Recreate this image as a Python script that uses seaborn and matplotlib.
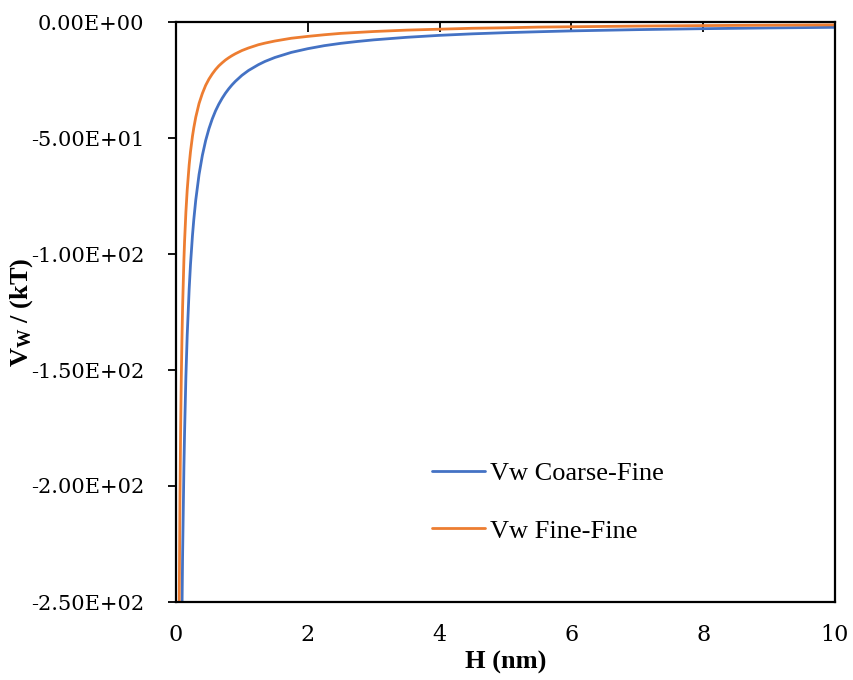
import matplotlib
matplotlib.use("Agg")
import matplotlib.pyplot as plt
import seaborn as sns
import pandas as pd
from matplotlib.ticker import FuncFormatter

# Data
h_nm = [0.04, 0.05, 0.06, 0.07, 0.08, 0.09, 0.10, 0.12, 0.13, 0.15, 0.17, 0.20,
        0.22, 0.25, 0.27, 0.30, 0.35, 0.40, 0.45, 0.50, 0.55, 0.60, 0.65, 0.70,
        0.75, 0.80, 0.85, 0.90, 1.00, 1.10, 1.25, 1.35, 1.50, 1.75, 2.00, 2.25,
        2.50, 2.75, 3.00, 3.50, 4.00, 4.50, 5.00, 5.50, 6.00, 7.00, 8.00, 9.00, 10.00]
vw_coarse_fine = [-575, -460, -383, -329, -288, -256, -230, -192, -177, -153, -135, -115,
                  -104.5, -92, -85.2, -76.7, -65.7, -57.5, -51.1, -46.0, -41.8, -38.3, -35.4, -32.9,
                  -30.7, -28.8, -27.1, -25.6, -23.0, -20.9, -18.4, -17.0, -15.3, -13.1, -11.5, -10.2,
                  -9.2, -8.4, -7.7, -6.6, -5.75, -5.1, -4.6, -4.2, -3.83, -3.29, -2.88, -2.56, -2.3]
vw_fine_fine = [-307, -246, -205, -176, -154, -137, -123, -102.5, -94.6, -82, -72.4, -61.5,
                -55.9, -49.2, -45.6, -41.0, -35.1, -30.8, -27.3, -24.6, -22.4, -20.5, -18.9, -17.6,
                -16.4, -15.4, -14.5, -13.7, -12.3, -11.2, -9.8, -9.1, -8.2, -7.0, -6.2, -5.5,
                -4.9, -4.5, -4.1, -3.5, -3.1, -2.7, -2.5, -2.2, -2.05, -1.76, -1.54, -1.37, -1.23]
series_names = ["Vw Coarse-Fine", "Vw Fine-Fine"]
x_ticks = [0, 2, 4, 6, 8, 10]
y_ticks = [-250, -200, -150, -100, -50, 0]

sns.set_theme(style="white")
plt.rcParams['font.family'] = ['DejaVu Serif']
plt.rcParams['text.color'] = 'black'
plt.rcParams['mathtext.fontset'] = 'custom'
plt.rcParams['mathtext.bf'] = 'Liberation Serif:bold'
plt.rcParams['mathtext.rm'] = 'Liberation Serif:bold'

df = pd.DataFrame({
    "H": h_nm * 2,
    "Vw": vw_coarse_fine + vw_fine_fine,
    "series": [series_names[0]] * len(h_nm) + [series_names[1]] * len(h_nm),
})

fig = plt.figure(figsize=(8.54, 6.8), dpi=100)
ax = fig.add_axes([176/854, 1-602/680, (835-176)/854, (602-22)/680])

palette = {series_names[0]: "#4472C4", series_names[1]: "#ED7D31"}
sns.lineplot(data=df, x="H", y="Vw", hue="series", palette=palette, ax=ax,
             linewidth=2.0, sort=True, estimator=None)

ax.set_xlim(0, 10)
ax.set_ylim(-250, 0)
ax.set_xticks(x_ticks)
ax.set_yticks(y_ticks)
ax.yaxis.set_major_formatter(FuncFormatter(lambda v, p: f"{v:.2E}"))
ax.xaxis.set_major_formatter(FuncFormatter(lambda v, p: f"{v:g}"))

for s in ax.spines.values():
    s.set_visible(True)
    s.set_color("black")
    s.set_linewidth(1.6)

ax.tick_params(axis='x', bottom=False, top=True, labelbottom=True, labeltop=False,
               direction='in', length=7, width=1.3, color='black', labelsize=16,
               pad=16, labelcolor='black')
ax.tick_params(axis='y', left=True, direction='out', length=6, width=1.3, color='black',
               labelsize=15, pad=17, labelcolor='black')

ax.set_xlabel("H (nm)", family="Liberation Serif", fontweight="bold", fontsize=19, color="black")
ax.set_ylabel(r"$\mathbf{V_W}$ / (kT)", family="Liberation Serif", fontweight="bold",
              fontsize=19, color="black")
ax.xaxis.set_label_coords(0.5, -0.085)
ax.yaxis.set_label_coords((35-176)/659, 0.5)

handles, labels = ax.get_legend_handles_labels()
leg = ax.legend(handles, labels, loc='center left',
                bbox_to_anchor=(432/854, 1-502/680), bbox_transform=fig.transFigure,
                frameon=False, prop={"family": "Liberation Serif", "size": 19},
                handlelength=2.0, handletextpad=0.2, labelspacing=1.3,
                borderpad=0, borderaxespad=0)
for line in leg.get_lines():
    line.set_linewidth(2.0)
for t in leg.get_texts():
    t.set_color("black")

fig.savefig("out.png", dpi=100)
